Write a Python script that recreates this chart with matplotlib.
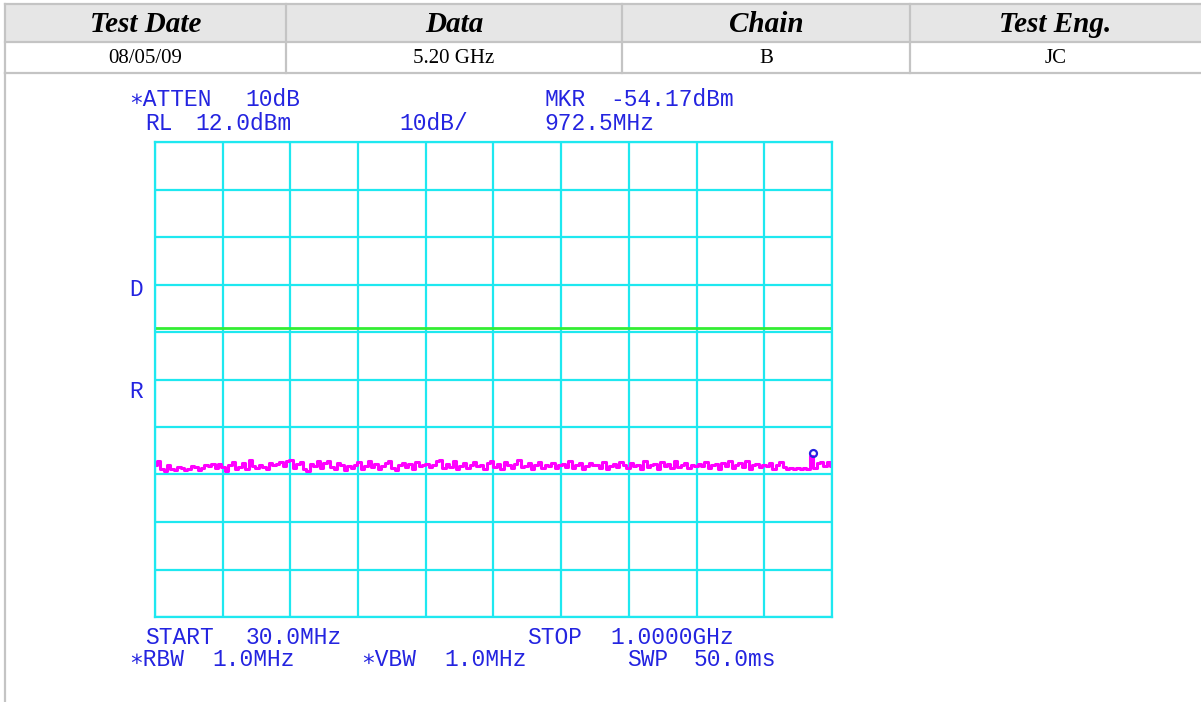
import matplotlib.pyplot as plt
import numpy as np

# header table
headers = ['Test Date', 'Data', 'Chain', 'Test Eng.']
row = ['08/05/09', '5.20 GHz', 'B', 'JC']

# analyzer settings
ref_level = 12.0
db_per_div = 10
start_mhz = 30.0
stop_mhz = 1000.0
display_line = -27.2
mkr_freq = 972.5
mkr_level = -54.17

# trace (dBm), evenly spaced from start to stop
trace_dbm = [
    -56.0, -55.2, -56.8, -57.3, -56.1, -56.9, -57.0, -56.4, -56.6, -57.1,
    -56.8, -56.2, -56.5, -57.0, -56.7, -55.9, -56.3, -55.8, -56.6, -55.7,
    -56.4, -57.2, -56.0, -55.3, -56.9, -56.5, -55.6, -56.8, -54.9, -56.2,
    -56.7, -55.9, -56.4, -56.8, -55.5, -56.1, -55.8, -55.4, -56.3, -55.2,
    -55.0, -56.6, -55.7, -55.3, -56.9, -57.3, -55.8, -56.2, -55.1, -56.7,
    -55.6, -55.2, -56.4, -56.9, -55.5, -56.1, -57.0, -56.3, -56.6, -55.9,
    -55.4, -56.8, -56.2, -55.1, -56.5, -55.7, -56.9, -56.3, -55.6, -55.2,
    -56.7, -57.1, -56.0, -55.5, -56.4, -55.8, -56.9, -55.3, -56.2, -55.9,
    -55.7, -56.5, -56.1, -55.2, -54.9, -56.6, -55.8, -56.4, -55.1, -56.9,
    -56.2, -55.5, -56.7, -56.0, -55.4, -56.3, -55.9, -56.8, -55.6, -55.2,
    -56.4, -55.7, -56.9, -55.3, -56.1, -56.6, -55.8, -55.0, -56.5, -56.2,
    -55.6, -56.8, -56.0, -55.4, -56.7, -55.9, -56.3, -55.5, -56.6, -56.1,
    -55.8, -56.4, -55.2, -56.7, -56.0, -55.6, -56.9, -56.3, -55.5, -56.1,
    -55.9, -56.6, -55.3, -56.8, -56.2, -55.7, -56.5, -55.4, -56.0, -56.7,
    -55.6, -56.3, -55.9, -56.8, -55.2, -56.5, -56.1, -55.7, -56.9, -55.4,
    -56.2, -55.8, -56.6, -55.1, -56.4, -56.0, -55.5, -56.7, -55.9, -56.3,
    -55.7, -56.2, -55.3, -56.6, -56.0, -55.8, -56.9, -55.5, -56.3, -55.1,
    -56.7, -56.1, -55.6, -56.4, -55.2, -56.8, -56.0, -55.7, -56.5, -55.9,
    -56.2, -55.6, -56.8, -56.0, -55.4, -56.5, -56.9, -56.6, -56.8, -56.7,
    -56.9, -56.6, -56.8, -54.17, -56.7, -55.6, -55.3, -56.2, -55.4, -56.3,
]

W, H = 1201, 702
cyan = '#1ee8f0'
blue = '#2424e0'
mono = ['Liberation Mono', 'DejaVu Sans Mono']

fig = plt.figure(figsize=(W / 100, H / 100), dpi=100)
page = fig.add_axes([0, 0, 1, 1])
page.set_xlim(0, W)
page.set_ylim(H, 0)
page.axis('off')

# table grid
col_x = [5, 286, 622, 910, W]
row_y = [4, 42, 73]
gray = '#c4c4c4'
page.fill_between([col_x[0], col_x[-1]], row_y[0], row_y[1], color='#e6e6e6', lw=0)
for y in row_y:
    page.plot([col_x[0], col_x[-1]], [y, y], color=gray, lw=1.6)
for x in col_x[:-1]:
    page.plot([x, x], [row_y[0], row_y[-1]], color=gray, lw=1.6)
page.plot([col_x[0], col_x[0]], [row_y[-1], H], color=gray, lw=1.6)

for i in range(len(headers)):
    xc = (col_x[i] + col_x[i + 1]) / 2
    page.text(xc, (row_y[0] + row_y[1]) / 2 + 1, headers[i], ha='center', va='center',
              family='Liberation Serif', weight='bold', style='italic', fontsize=21)
    page.text(xc, (row_y[1] + row_y[2]) / 2 + 1, row[i], ha='center', va='center',
              family='Liberation Serif', fontsize=15)

# analyzer screen text, placed on the instrument's character grid
col0, pitch = 129, 16.6
words = [
    (0, 100, '\u2217ATTEN'), (7, 100, '10dB'), (25, 100, 'MKR'), (29, 100, '-54.17dBm'),
    (1, 123, 'RL'), (4, 123, '12.0dBm'), (16.3, 123, '10dB/'), (25, 123, '972.5MHz'),
    (0, 290, 'D'), (0, 391, 'R'),
    (1, 637, 'START'), (7, 637, '30.0MHz'), (24, 637, 'STOP'), (29, 637, '1.0000GHz'),
    (0, 660, '\u2217RBW'), (5, 660, '1.0MHz'), (14, 660, '\u2217VBW'), (19, 660, '1.0MHz'),
    (30, 660, 'SWP'), (34, 660, '50.0ms'),
]
for c, y, s in words:
    page.text(col0 + c * pitch, y, s, ha='left', va='center', family=mono,
              fontsize=16.5, color=blue)

# graticule
left, right, top, bottom = 155, 832, 142, 617
ax = fig.add_axes([left / W, 1 - bottom / H, (right - left) / W, (bottom - top) / H])
ax.set_xlim(start_mhz, stop_mhz)
ax.set_ylim(ref_level - 10 * db_per_div, ref_level)
ax.set_xticks(np.linspace(start_mhz, stop_mhz, 11))
ax.set_yticks(np.linspace(ref_level - 10 * db_per_div, ref_level, 11))
ax.tick_params(length=0, labelbottom=False, labelleft=False)
ax.grid(True, color=cyan, lw=1.6)
for sp in ax.spines.values():
    sp.set_color(cyan)
    sp.set_linewidth(1.6)
ax.patch.set_alpha(0)

freqs = np.linspace(start_mhz, stop_mhz, len(trace_dbm))
ax.axhline(display_line, color='#33ee33', lw=2)
ax.plot(freqs, trace_dbm, color='#ff00ff', lw=2.2, drawstyle='steps-mid')
ax.plot([mkr_freq], [mkr_level + 0.8], marker='o', ms=5, mfc='none', mec=blue, mew=1.6)

fig.savefig('out.png', dpi=100)
